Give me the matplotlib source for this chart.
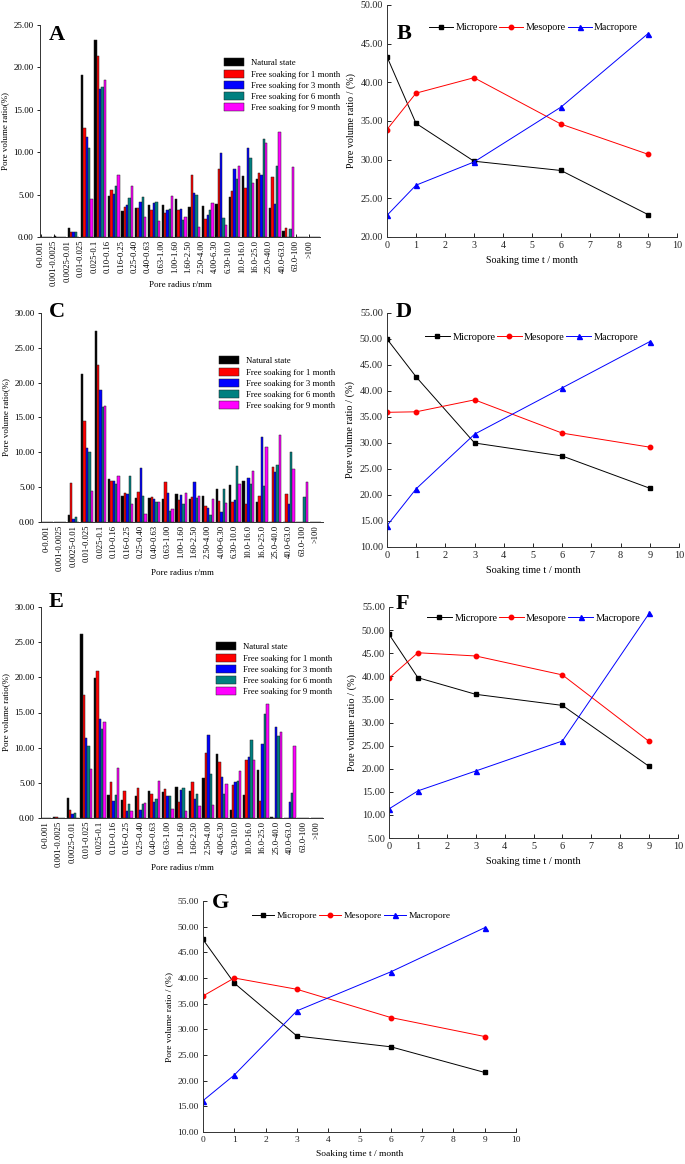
import matplotlib
matplotlib.use("Agg")
import matplotlib.pyplot as plt
from matplotlib.ticker import FormatStrFormatter
import numpy as np

plt.rcParams['font.family'] = ['Liberation Serif', 'DejaVu Serif']

W, H = 685, 1164
fig = plt.figure(figsize=(W / 100, H / 100), dpi=100)

categories = ["0-0.001", "0.001-0.0025", "0.0025-0.01", "0.01-0.025", "0.025-0.1",
              "0.10-0.16", "0.16-0.25", "0.25-0.40", "0.40-0.63", "0.63-1.00",
              "1.00-1.60", "1.60-2.50", "2.50-4.00", "4.00-6.30", "6.30-10.0",
              "10.0-16.0", "16.0-25.0", "25.0-40.0", "40.0-63.0", "63.0-100", ">100"]
series_names = ["Natural state", "Free soaking for 1 month", "Free soaking for 3 month",
                "Free soaking for 6 month", "Free soaking for 9 month"]
series_colors = ["#000000", "#ff0000", "#0000ff", "#008080", "#ff00ff"]

# Panel A
A_natural = [0, 0.08, 1.02, 19.07, 23.19, 4.79, 3.10, 3.37, 3.77, 3.73, 4.47, 3.49, 3.61, 3.92, 4.71, 7.18, 6.87, 3.41, 0.67, 0, 0]
A_1m      = [0, 0.03, 0.63, 12.83, 21.31, 5.49, 3.53, 3.37, 3.22, 2.83, 3.18, 7.26, 2.16, 8.05, 5.42, 5.77, 7.50, 7.10, 1.02, 0, 0]
A_3m      = [0, 0.02, 0.60, 11.81, 17.46, 5.10, 3.80, 4.12, 3.96, 3.18, 3.26, 5.22, 2.55, 9.85, 8.05, 10.52, 7.34, 3.89, 0, 0, 0]
A_6m      = [0, 0.02, 0.55, 10.48, 17.70, 6.00, 4.59, 4.71, 4.16, 3.34, 2.04, 4.91, 3.22, 2.28, 6.83, 9.30, 11.54, 8.36, 0.90, 0, 0]
A_9m      = [0, 0, 0, 4.51, 18.49, 7.26, 6.00, 2.39, 1.84, 4.79, 2.39, 1.18, 4.00, 1.37, 8.40, 6.40, 11.07, 12.40, 8.20, 0, 0]

# Panel C
C_natural = [0, 0.05, 1.00, 21.27, 27.46, 6.13, 3.79, 3.50, 3.45, 3.31, 3.98, 3.26, 3.69, 4.74, 5.27, 5.94, 2.83, 0, 0, 0, 0]
C_1m      = [0, 0.05, 5.60, 14.47, 22.52, 5.89, 4.22, 4.26, 3.59, 5.80, 3.21, 3.59, 2.35, 3.07, 2.87, 2.64, 3.79, 7.91, 4.02, 0, 0]
C_3m      = [0, 0.02, 0.43, 10.69, 18.88, 5.89, 4.02, 7.71, 3.35, 4.12, 3.83, 5.80, 2.06, 1.39, 3.16, 6.32, 12.27, 7.24, 2.54, 0, 0]
C_6m      = [0, 0.02, 0.77, 10.11, 16.53, 5.46, 6.56, 3.74, 2.92, 1.53, 2.59, 3.50, 1.05, 4.74, 8.05, 5.51, 5.17, 8.19, 10.01, 3.64, 0]
C_9m      = [0, 0, 0, 4.50, 16.72, 6.66, 2.59, 1.20, 2.92, 1.82, 4.12, 3.69, 3.31, 2.78, 5.41, 7.33, 10.73, 12.55, 7.67, 5.70, 0]

# Panel E
E_natural = [0, 0.10, 2.89, 26.16, 19.90, 3.27, 2.56, 3.13, 3.89, 3.74, 4.41, 3.84, 5.69, 9.10, 1.09, 3.27, 6.78, 0.14, 0, 0, 0]
E_1m      = [0, 0.08, 1.18, 17.49, 20.95, 5.12, 3.79, 4.22, 3.36, 4.12, 2.27, 5.12, 9.24, 7.91, 4.69, 8.20, 2.37, 0, 0, 0, 0]
E_3m      = [0, 0.02, 0.62, 11.33, 14.08, 2.37, 1.00, 1.14, 2.32, 3.08, 4.03, 2.75, 11.85, 5.83, 5.07, 8.67, 10.52, 12.99, 2.27, 0, 0]
E_6m      = [0, 0.02, 0.71, 10.24, 12.70, 3.27, 1.99, 2.04, 2.70, 3.13, 4.22, 3.41, 6.21, 3.41, 5.21, 11.14, 14.74, 11.60, 3.50, 0, 0]
E_9m      = [0, 0, 0, 6.97, 13.65, 7.16, 0.95, 2.09, 5.26, 1.28, 0.95, 1.75, 1.85, 4.83, 6.68, 8.20, 16.21, 12.23, 10.24, 0, 0]

# Line panels
months = [0, 1, 3, 6, 9]
line_names = ["Micropore", "Mesopore", "Macropore"]
B_micro = [43.3, 34.7, 29.8, 28.6, 22.9]
B_meso  = [33.9, 38.6, 40.6, 34.6, 30.7]
B_macro = [22.8, 26.7, 29.7, 36.8, 46.3]
D_micro = [50.0, 42.7, 30.0, 27.5, 21.3]
D_meso  = [35.9, 36.0, 38.3, 31.9, 29.2]
D_macro = [14.1, 21.2, 31.7, 40.6, 49.5]
F_micro = [49.1, 39.7, 36.1, 33.7, 20.5]
F_meso  = [39.6, 45.1, 44.4, 40.3, 25.9]
F_macro = [11.3, 15.2, 19.5, 26.0, 53.6]
G_micro = [47.5, 39.0, 28.7, 26.6, 21.6]
G_meso  = [36.5, 40.0, 37.8, 32.3, 28.6]
G_macro = [16.1, 21.1, 33.6, 41.2, 49.8]


def rect(left, top, right, bottom):
    return [left / W, 1 - bottom / H, (right - left) / W, (bottom - top) / H]


def fpt(x, y):
    return (x / W, 1 - y / H)


def bar_panel(box, data, ymax, letter, letter_xy, legend_xy, xlim, start_aligned, xlabel_y):
    ax = fig.add_axes(rect(*box))
    n = len(categories)
    x = np.arange(n)
    w = 0.175
    for k, (vals, col, name) in enumerate(zip(data, series_colors, series_names)):
        if start_aligned:
            pos = x + (k + 0.5) * w
        else:
            pos = x + (k - 2) * w
        ax.bar(pos, vals, width=w, color=col, edgecolor='#222222', linewidth=0.35, label=name)
    ax.set_xlim(*xlim)
    ax.set_ylim(0, ymax)
    ax.set_yticks(np.arange(0, ymax + 0.1, 5))
    ax.yaxis.set_major_formatter(FormatStrFormatter('%.2f'))
    ax.set_xticks(x)
    ax.set_xticklabels(categories, rotation=90, fontsize=6.2)
    ax.tick_params(axis='y', labelsize=6.5, direction='out', length=2.5, width=0.6, pad=2)
    ax.tick_params(axis='x', direction='in' if start_aligned else 'out',
                   length=2 if start_aligned else 0, width=0.6, pad=2)
    for s in ['top', 'right']:
        ax.spines[s].set_visible(False)
    for s in ['left', 'bottom']:
        ax.spines[s].set_linewidth(0.7)
        ax.spines[s].set_color('#333333')
    ax.set_ylabel("Pore volume ratio(%)", fontsize=6.5, labelpad=3)
    fig.text((box[0] + box[2]) / 2 / W, 1 - xlabel_y / H, "Pore radius r/mm",
             fontsize=6.5, ha='center', va='center')
    fig.text(*fpt(*letter_xy), letter, fontsize=16, fontweight='bold', ha='left', va='center')
    fig.legend(*ax.get_legend_handles_labels(), loc='upper left', bbox_to_anchor=fpt(*legend_xy),
               frameon=False, fontsize=6.3, borderpad=0, handlelength=2.2, handleheight=1.05,
               handletextpad=0.8, labelspacing=0.24)
    return ax


def line_panel(box, micro, meso, macro, ylo, yhi, letter, letter_xy, legend_xy, fs):
    ax = fig.add_axes(rect(*box))
    ax.plot(months, micro, color='black', marker='s', markersize=3.2, linewidth=0.7, label=line_names[0])
    ax.plot(months, meso, color='red', marker='o', markersize=3.2, linewidth=0.7, label=line_names[1])
    ax.plot(months, macro, color='blue', marker='^', markersize=3.6, linewidth=0.7, label=line_names[2])
    ax.set_xlim(0, 10)
    ax.set_ylim(ylo, yhi)
    ax.set_xticks(range(0, 11))
    ax.set_yticks(np.arange(ylo, yhi + 0.1, 5))
    ax.yaxis.set_major_formatter(FormatStrFormatter('%.2f'))
    ax.tick_params(labelsize=fs, direction='in', length=3, width=0.6, pad=3)
    for s in ['top', 'right']:
        ax.spines[s].set_visible(False)
    for s in ['left', 'bottom']:
        ax.spines[s].set_linewidth(0.7)
        ax.spines[s].set_color('#333333')
    ax.set_xlabel("Soaking time t / month", fontsize=fs, labelpad=4)
    ax.set_ylabel("Pore volume ratio / (%)", fontsize=fs, labelpad=3)
    for t in ax.get_xticklabels() + ax.get_yticklabels():
        t.set_color('#222222')
    fig.text(*fpt(*letter_xy), letter, fontsize=16, fontweight='bold', ha='left', va='center')
    fig.legend(*ax.get_legend_handles_labels(), loc='center left', bbox_to_anchor=fpt(*legend_xy),
               frameon=False, fontsize=fs, borderpad=0, ncol=3, handlelength=2.4,
               handletextpad=0.25, columnspacing=0.15)
    return ax


bar_panel((40, 25, 320, 237), [A_natural, A_1m, A_3m, A_6m, A_9m], 25, "A", (49, 35),
          (220, 54), (-0.05, 20.8), True, 285)
bar_panel((41, 313, 323, 522), [C_natural, C_1m, C_3m, C_6m, C_9m], 30, "C", (49, 312),
          (215, 352), (-0.42, 20.55), False, 573)
bar_panel((41, 607, 323, 818), [E_natural, E_1m, E_3m, E_6m, E_9m], 30, "E", (49, 602),
          (212, 638), (-0.33, 20.45), False, 868)

line_panel((387, 5, 677, 237), B_micro, B_meso, B_macro, 20, 50, "B", (397, 34), (424, 28), 7.2)
line_panel((387, 313, 679, 547), D_micro, D_meso, D_macro, 10, 55, "D", (396, 312), (420, 337), 7.4)
line_panel((389, 607, 678, 838), F_micro, F_meso, F_macro, 5, 55, "F", (396, 604), (422, 618), 7.4)
line_panel((203, 901, 516, 1132), G_micro, G_meso, G_macro, 10, 55, "G", (212, 903), (247, 916), 6.8)

fig.savefig("out.png", dpi=100)
